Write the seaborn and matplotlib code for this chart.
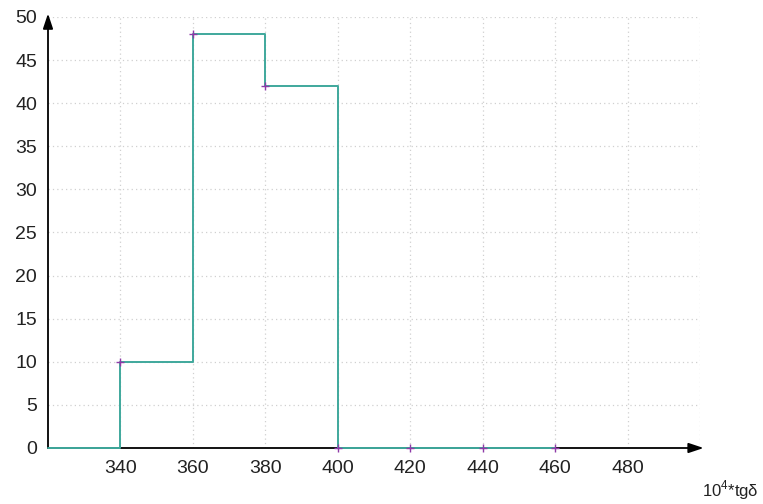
import matplotlib
matplotlib.use("Agg")
import matplotlib.pyplot as plt
import seaborn as sns
import pandas as pd

# data
x_vals = [320, 340, 360, 380, 400, 420, 440, 460]
y_vals = [0, 10, 48, 42, 0, 0, 0, 0]
marker_x = [340, 360, 380, 400, 420, 440, 460]
marker_y = [10, 48, 42, 0, 0, 0, 0]
x_ticks = [340, 360, 380, 400, 420, 440, 460, 480]
y_ticks = [0, 5, 10, 15, 20, 25, 30, 35, 40, 45, 50]
x_label = "10$^4$*tgδ"

sns.set_style("white")
plt.rcParams['font.family'] = ['Liberation Sans', 'DejaVu Sans']
plt.rcParams['mathtext.fontset'] = 'custom'
plt.rcParams['mathtext.rm'] = 'Liberation Sans'

fig = plt.figure(figsize=(7.63, 5.04), dpi=100)
ax = fig.add_axes([48/763, 1-448/504, (700-48)/763, (448-17)/504])

df = pd.DataFrame({"x": x_vals, "y": y_vals})
mk = pd.DataFrame({"x": marker_x, "y": marker_y})

ax.set_xlim(320, 500)
ax.set_ylim(0, 50)

for gx in x_ticks + [500]:
    ax.axvline(gx, color='#d0d0d0', lw=0.9, ls=(0, (1, 2.5)), zorder=0)
for gy in y_ticks[1:]:
    ax.axhline(gy, color='#d0d0d0', lw=0.9, ls=(0, (1, 2.5)), zorder=0)

# axes arrows
ax.annotate('', xy=(501, 0), xytext=(320, 0), xycoords='data',
            arrowprops=dict(arrowstyle='-|>,head_length=0.9,head_width=0.3', color='black', lw=1.3,
                            shrinkA=0, shrinkB=0), annotation_clip=False, zorder=2)
ax.annotate('', xy=(320, 50.4), xytext=(320, 0), xycoords='data',
            arrowprops=dict(arrowstyle='-|>,head_length=0.9,head_width=0.3', color='black', lw=1.3,
                            shrinkA=0, shrinkB=0), annotation_clip=False, zorder=2)

sns.lineplot(data=df, x="x", y="y", ax=ax, drawstyle='steps-post', color='#3fa89c',
             lw=1.4, zorder=3, clip_on=False)
ax.plot(mk["x"], mk["y"], ls='none', marker='+', ms=6, mew=1.0, color='#8e3aa8',
        zorder=4, clip_on=False)

for s in ax.spines.values():
    s.set_visible(False)

ax.set_xticks(x_ticks)
ax.set_yticks(y_ticks)
ax.tick_params(axis='both', length=0, labelsize=14, colors='#222222')
ax.tick_params(axis='x', pad=8.5)
ax.tick_params(axis='y', pad=8)
ax.set_xlabel("")
ax.set_ylabel("")

fig.text(730/763, 1-490/504, x_label, ha='center', va='center', fontsize=12, color='#222222')

fig.savefig("out.png", dpi=100)
